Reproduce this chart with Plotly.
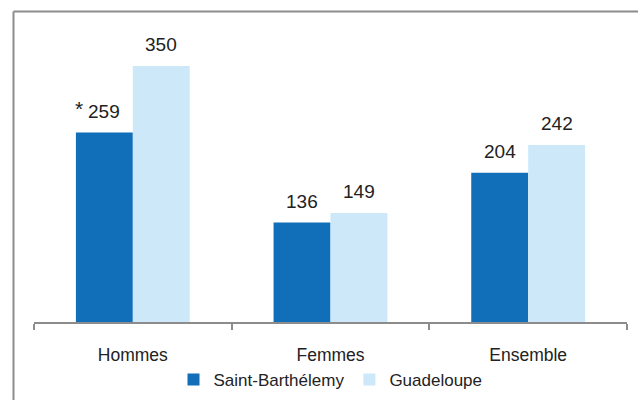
import plotly.graph_objects as go

categories = ["Hommes", "Femmes", "Ensemble"]
saint_barth = [259, 136, 204]
guadeloupe = [350, 149, 242]
series_names = ["Saint-Barthélemy", "Guadeloupe"]
star_note = "*"

FONT = "Liberation Sans, Arial, sans-serif"
DARK = "#116FB9"
LIGHT = "#CDE8F9"
TXT = "#222222"

fig = go.Figure()
fig.add_trace(go.Bar(
    x=categories, y=saint_barth, name=series_names[0],
    marker=dict(color=DARK, line=dict(width=0)),
))
fig.add_trace(go.Bar(
    x=categories, y=guadeloupe, name=series_names[1],
    marker=dict(color=LIGHT, line=dict(width=0)),
))

# value labels above bars
for vals, xs in ((saint_barth, -28.5), (guadeloupe, 28.5)):
    for c, v in zip(categories, vals):
        fig.add_annotation(x=c, y=v, text=str(v), showarrow=False,
                           xshift=xs, yshift=21, yanchor="middle",
                           font=dict(size=19, color=TXT, family=FONT))

fig.add_annotation(
    x=categories[0], y=saint_barth[0], text=star_note, showarrow=False,
    xshift=-54, yshift=24, yanchor="middle", font=dict(size=21, color=TXT, family=FONT),
)

W, H = 638, 400
ml, mr, mt, mb = 34, 11, 22, 78
pw, ph = W - ml - mr, H - mt - mb
fx = (13.5 - ml) / pw
fy = 1 + (mt - 11.5) / ph
fig.add_shape(type="line", xref="paper", yref="paper", x0=fx, x1=1 + (mr + 5) / pw,
              y0=fy, y1=fy, line=dict(color="#8C8C8C", width=2))
fig.add_shape(type="line", xref="paper", yref="paper", x0=fx, x1=fx,
              y0=fy, y1=-(mb + 5) / ph, line=dict(color="#8C8C8C", width=2))

fig.update_layout(
    width=W, height=H,
    margin=dict(l=ml, r=mr, t=mt, b=mb, autoexpand=False),
    paper_bgcolor="white", plot_bgcolor="white",
    barmode="group", bargap=0.424, bargroupgap=0,
    font=dict(family=FONT, size=17, color=TXT),
    showlegend=True,
    legend=dict(orientation="h", x=0.5, xanchor="center", xref="paper",
                y=0.05, yref="container", yanchor="middle",
                font=dict(size=17, family=FONT, color=TXT),
                itemwidth=30, tracegroupgap=0),
    xaxis=dict(
        showline=True, linecolor="#8C8C8C", linewidth=2,
        ticks="outside", tickson="boundaries", ticklen=6, tickcolor="#8C8C8C", tickwidth=2,
        ticklabelstandoff=16, tickfont=dict(size=17.5, family=FONT, color=TXT),
        range=[-0.5, 2.5], showgrid=False, automargin=False,
    ),
    yaxis=dict(range=[0, 410], visible=False, showgrid=False, zeroline=False),
)

fig.write_html("out.html", config={"displayModeBar": False},
               post_script="document.body.style.margin='0';document.body.style.overflow='hidden';")
